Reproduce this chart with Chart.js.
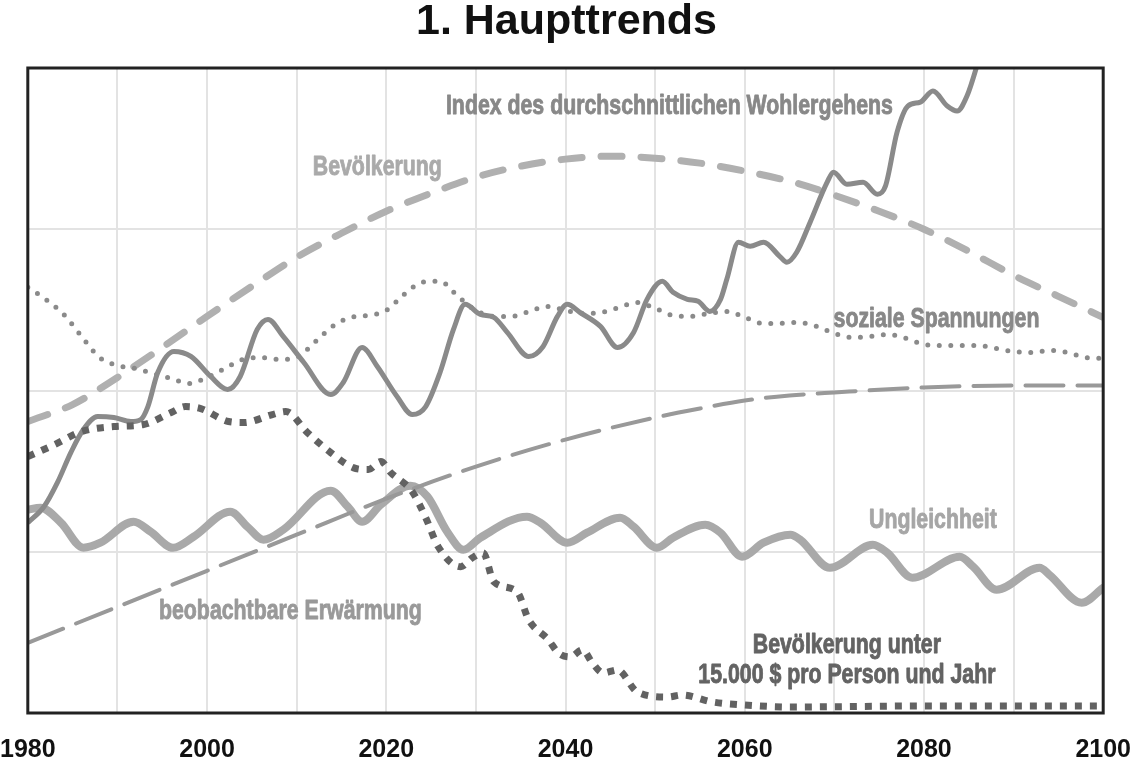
<!DOCTYPE html>
<html>
<head>
<meta charset="utf-8">
<script src="https://cdn.jsdelivr.net/npm/chart.js@4"></script>
<style>
html,body{margin:0;padding:0;background:#fff;}
#c{display:block;}
</style>
</head>
<body>
<canvas id="c" width="1131" height="762"></canvas>
<script>
// ---- data (relative index units, 0..644) ----
const xTicksYears = [1980, 2000, 2020, 2040, 2060, 2080, 2100];

const bevYears = [1980,1985,1990,1995,2000,2005,2010,2015,2020,2025,2030,2035,2040,2045,2050,2055,2060,2065,2070,2075,2080,2085,2090,2095,2100];
const bevVals  = [291,308,335,365,396,426,455,479,501,519,535,546,553,556,554,549,541,531,517,501,483,461,437,416,395];

const warmYears = [1980,1990,2000,2010,2020,2030,2040,2050,2055,2060,2065,2070,2080,2090,2100];
const warmVals  = [70,106,142,178,214,246,273,295,304,312,317,320,325,327,327];

const spannYears = [1980,1982,1984,1986,1988,1990,1992,1994,1996,1998,2000,2002,2004,2006,2008,2010,2012,2014,2016,2018,2020,2022,2024,2026,2028,2030,2032,2034,2036,2038,2040,2042,2044,2046,2048,2050,2052,2054,2056,2058,2060,2062,2064,2066,2068,2070,2072,2074,2076,2078,2080,2082,2084,2086,2088,2090,2092,2094,2096,2098,2100];
const spannVals  = [425,413,398,376,355,347,344,339,334,329,335,344,353,355,353,355,370,386,395,397,402,418,430,431,416,402,396,396,401,406,402,399,400,405,410,404,397,396,399,401,395,389,389,390,386,379,375,376,378,374,368,367,367,367,364,361,360,362,360,355,354];

const wohlYears = [1980.0,1981.8,1983.3,1984.8,1986.2,1987.8,1989.6,1991.5,1992.6,1993.4,1994.5,1996.3,1998.2,2000.4,2002.3,2003.7,2005.6,2006.8,2008.5,2010.8,2013.8,2015.2,2017.3,2019.0,2021.2,2022.9,2024.4,2026.0,2027.5,2028.8,2030.5,2032.0,2033.5,2035.9,2037.5,2039.1,2040.2,2041.6,2043.9,2045.8,2047.6,2049.1,2050.8,2052.0,2053.6,2054.8,2056.1,2057.3,2058.0,2059.3,2060.6,2062.1,2063.9,2064.7,2065.8,2067.3,2069.2,2069.9,2071.4,2073.2,2074.8,2075.7,2077.0,2078.2,2079.6,2081.0,2082.6,2083.7,2084.8,2085.9,2087.5];
const wohlVals  = [190,206,230,260,283,296,295,291,293,306,340,361,356,336,323,336,383,393,376,350,318,330,365,346,316,298,306,340,383,408,398,395,380,356,366,396,408,400,386,365,380,413,431,420,413,411,401,413,433,470,466,470,456,450,460,490,530,540,528,530,518,526,580,606,610,621,606,601,616,646,700];

const unglYears = [1980,1981.4,1983.7,1986.2,1988.1,1991.8,1993.7,1996.2,1998.5,2002.6,2004.5,2006.3,2008.5,2013.8,2015.7,2017.3,2019.4,2022.7,2024.6,2026.8,2028.6,2030.5,2035.7,2037.2,2040.2,2042.4,2046.1,2047.6,2050.2,2052.0,2055.6,2057.3,2059.7,2062.1,2065.1,2066.2,2069.5,2074.3,2075.9,2078.7,2084.0,2085.5,2088.1,2092.9,2094.0,2097.6,2100];
const unglVals  = [203,205,190,165,170,191,181,165,176,201,186,173,183,222,206,191,208,227,216,181,163,175,196,190,170,180,195,186,165,175,188,180,156,170,178,173,145,168,160,135,156,146,123,145,138,110,125];

const armYears = [1980,1983,1986,1989.6,1992.9,1996,1997.6,1999.3,2002.4,2004.1,2007.3,2008.8,2011.2,2013.8,2016.3,2018,2019.4,2020.5,2022.9,2024.4,2025.8,2028.3,2029.6,2030.8,2032,2034.6,2035.9,2038.1,2039.2,2040.5,2041.9,2043,2044.2,2045.8,2048,2051.4,2053,2056.4,2060,2065,2080,2100];
const armVals  = [256,268,281,286,288,300,306,304,291,290,298,301,280,260,245,243,251,240,221,195,166,146,155,160,131,121,93,73,60,56,63,50,40,43,21,16,18,11,8,6,7,7];

const labelTexts = {
  wohl: "Index des durchschnittlichen Wohlergehens",
  bev: "Bevölkerung",
  spann: "soziale Spannungen",
  ungl: "Ungleichheit",
  warm: "beobachtbare Erwärmung",
  arm1: "Bevölkerung unter",
  arm2: "15.000 $ pro Person und Jahr"
};
const titleText = "1. Haupttrends";

// ---- build ----
const pts = (xs, ys) => xs.map((x, i) => ({x, y: ys[i]}));
const SANS = '"Liberation Sans", Arial, sans-serif';

const labelDefs = [
  {text: labelTexts.wohl,  x: 2051.6, y: 606, color: '#888888'},
  {text: labelTexts.bev,   x: 2019.0, y: 545, color: '#aaaaaa'},
  {text: labelTexts.spann, x: 2081.4, y: 393, color: '#888888'},
  {text: labelTexts.ungl,  x: 2081.0, y: 192, color: '#a6a6a6'},
  {text: labelTexts.warm,  x: 2009.3, y: 101, color: '#999999'},
  {text: labelTexts.arm1,  x: 2071.4, y: 67,  color: '#636363'},
  {text: labelTexts.arm2,  x: 2071.4, y: 37,  color: '#636363'}
];
const LABEL_FONT = 'bold 27px ' + SANS;
const LABEL_REF_WIDTH = 447; // width of the longest label in the picture

const framePlugin = {
  id: 'frame',
  afterDatasetsDraw(chart) {
    const {ctx, chartArea: a} = chart;
    ctx.save();
    ctx.strokeStyle = '#222';
    ctx.lineWidth = 3;
    ctx.strokeRect(a.left, a.top, a.right - a.left, a.bottom - a.top);
    ctx.restore();
  }
};
const textPlugin = {
  id: 'texts',
  afterDatasetsDraw(chart) {
    const {ctx, scales} = chart;
    ctx.save();
    ctx.font = LABEL_FONT;
    const sx = LABEL_REF_WIDTH / ctx.measureText(labelTexts.wohl).width;
    ctx.textAlign = 'center';
    ctx.textBaseline = 'middle';
    labelDefs.forEach(l => {
      const px = scales.x.getPixelForValue(l.x);
      const py = scales.y.getPixelForValue(l.y);
      ctx.save();
      ctx.translate(px, py);
      ctx.scale(sx, 1);
      ctx.fillStyle = l.color;
      ctx.strokeStyle = l.color;
      ctx.lineWidth = 0.9;
      ctx.lineJoin = 'round';
      ctx.fillText(l.text, 0, 0);
      ctx.strokeText(l.text, 0, 0);
      ctx.restore();
    });
    ctx.font = 'bold 43px ' + SANS;
    ctx.fillStyle = '#111';
    ctx.textBaseline = 'alphabetic';
    ctx.fillText(titleText, chart.width / 2 + 1, 34);
    ctx.restore();
  }
};

const common = {pointRadius: 0, fill: false, cubicInterpolationMode: 'monotone'};

new Chart(document.getElementById('c'), {
  type: 'line',
  data: {
    datasets: [
      Object.assign({label: labelTexts.arm1 + ' ' + labelTexts.arm2, data: pts(armYears, armVals),
        borderColor: '#626262', borderWidth: 7, borderDash: [7, 8], borderCapStyle: 'butt', order: 1}, common),
      Object.assign({label: labelTexts.wohl, data: pts(wohlYears, wohlVals),
        borderColor: '#8a8a8a', borderWidth: 5, order: 2}, common),
      Object.assign({label: labelTexts.spann, data: pts(spannYears, spannVals),
        borderColor: '#8a8a8a', borderWidth: 5, borderDash: [0, 11.5], borderCapStyle: 'round', order: 3}, common),
      Object.assign({label: labelTexts.bev, data: pts(bevYears, bevVals),
        borderColor: '#b0b0b0', borderWidth: 7, borderDash: [21, 19], borderCapStyle: 'round', order: 4}, common),
      Object.assign({label: labelTexts.warm, data: pts(warmYears, warmVals),
        borderColor: '#999999', borderWidth: 4, borderDash: [38, 14], borderCapStyle: 'round', order: 5}, common),
      Object.assign({label: labelTexts.ungl, data: pts(unglYears, unglVals),
        borderColor: '#a9a9a9', borderWidth: 8, borderCapStyle: 'round', order: 6}, common)
    ]
  },
  options: {
    responsive: false,
    animation: false,
    devicePixelRatio: 1,
    layout: {padding: {left: 0, right: 0, top: 68, bottom: 0}},
    plugins: {legend: {display: false}, tooltip: {enabled: false}, title: {display: false}},
    scales: {
      x: {
        type: 'linear', min: 1980, max: 2100,
        afterFit: s => { s.height = 49; },
        ticks: {
          stepSize: 10, autoSkip: false, maxRotation: 0, padding: 0,
          color: '#111',
          font: {family: SANS, size: 25, weight: 'bold'},
          callback: v => xTicksYears.includes(v) ? String(v) : ''
        },
        grid: {color: '#e3e3e3', lineWidth: 2, drawTicks: true, tickLength: 22, tickColor: 'rgba(0,0,0,0)'},
        border: {display: false}
      },
      y: {
        min: 0, max: 644,
        afterFit: s => { s.width = 0; },
        ticks: {stepSize: 161, display: false},
        grid: {color: '#e3e3e3', lineWidth: 2, drawTicks: false},
        border: {display: false}
      }
    }
  },
  plugins: [framePlugin, textPlugin]
});
</script>
</body>
</html>
